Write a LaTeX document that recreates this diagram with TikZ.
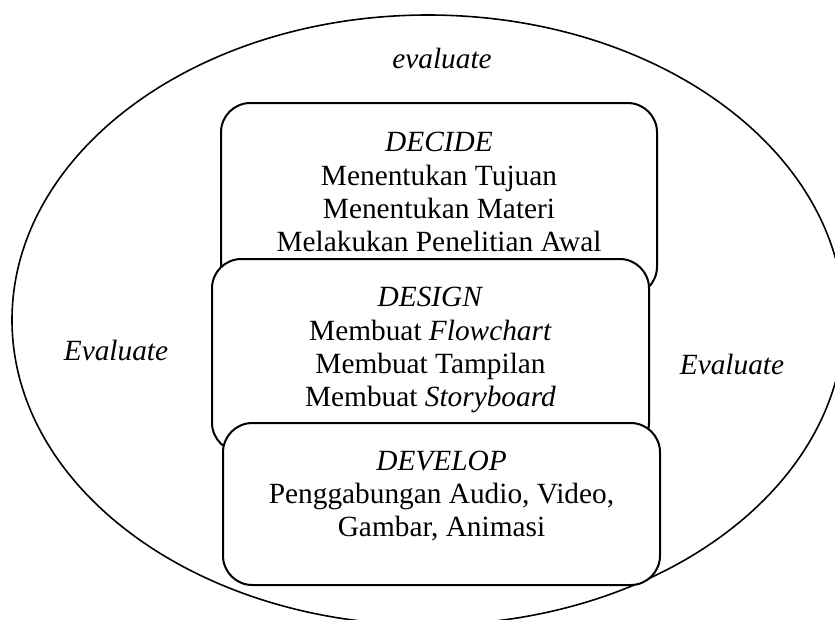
\documentclass[tikz,border=0pt]{standalone}
\usepackage{fontspec}
\setmainfont{Liberation Serif}
\usetikzlibrary{fit}
\begin{document}
\begin{tikzpicture}[x=0.75pt,y=-0.75pt,
  stagebox/.style={draw,line width=1.5pt,rounded corners=22pt,fill=white,inner sep=0pt},
  label/.style={anchor=base,inner sep=0pt,align=center,font=\fontsize{22}{25}\selectfont},
  outer/.style={line width=1.2pt}]
\useasboundingbox (0,0) rectangle (835,619);
\begin{scope}
\clip (0,0) rectangle (835,619);
\draw[outer] (428,320) ellipse [x radius=416, y radius=305];
\end{scope}
\node[stagebox, fit={(221,103) (657,296)}] (decide) {};
\node[stagebox, fit={(212,259) (649,452)}] (design) {};
\node[stagebox, fit={(223,423) (660,585)}] (develop) {};
\node[label] (evtop) at (442,68) {\textit{evaluate}};
\node[label] (evleft) at (116,360) {\textit{Evaluate}};
\node[label] (evright) at (732,374) {\textit{Evaluate}};
\node[label] (decidetext) at (439,251.7) {\textit{DECIDE}\\Menentukan Tujuan\\Menentukan Materi\\Melakukan Penelitian Awal};
\node[label] (designtext) at (430.5,406.7) {\textit{DESIGN}\\Membuat \textit{Flowchart}\\Membuat Tampilan\\Membuat \textit{Storyboard}};
\node[label] (developtext) at (441.5,536.7) {\textit{DEVELOP}\\Penggabungan Audio, Video,\\Gambar, Animasi};
\end{tikzpicture}
\end{document}
